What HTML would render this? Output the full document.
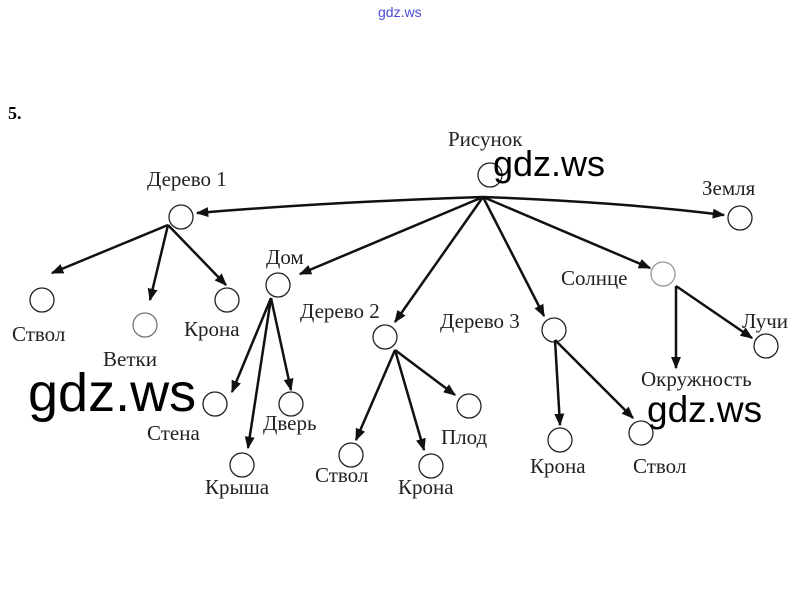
<!DOCTYPE html>
<html><head><meta charset="utf-8"><style>
html,body{margin:0;padding:0;background:#fff;}
svg{display:block;}
.l{font-family:"Liberation Serif","DejaVu Serif",serif;font-size:21px;fill:#222;}
.g{font-family:"Liberation Sans","DejaVu Sans",sans-serif;fill:#000;}
</style></head><body>
<svg width="809" height="593" viewBox="0 0 809 593" xmlns="http://www.w3.org/2000/svg">
<defs>
<marker id="a" viewBox="0 0 10 10" refX="9" refY="5" markerWidth="5" markerHeight="5" orient="auto"><path d="M0,1 L10,5 L0,9 z" fill="#111"/></marker>
</defs>
<text x="378" y="17" font-family="Liberation Sans,sans-serif" font-size="14" fill="#4a4ad8">gdz.ws</text>
<text x="8" y="119" font-family="Liberation Serif,serif" font-size="18" font-weight="bold">5.</text>
<g fill="none" stroke="#222" stroke-width="1.3">
<circle cx="490" cy="175" r="12"/><circle cx="181" cy="217" r="12"/><circle cx="740" cy="218" r="12"/>
<circle cx="278" cy="285" r="12"/><circle cx="385" cy="337" r="12"/><circle cx="554" cy="330" r="12"/>
<circle cx="663" cy="274" r="12" stroke="#999"/><circle cx="42" cy="300" r="12"/><circle cx="145" cy="325" r="12" stroke="#777"/>
<circle cx="227" cy="300" r="12"/><circle cx="766" cy="346" r="12"/><circle cx="215" cy="404" r="12"/>
<circle cx="291" cy="404" r="12"/><circle cx="242" cy="465" r="12"/><circle cx="351" cy="455" r="12"/>
<circle cx="431" cy="466" r="12"/><circle cx="469" cy="406" r="12"/><circle cx="560" cy="440" r="12"/><circle cx="641" cy="433" r="12"/>
</g>
<g stroke="#111" stroke-width="2.5" fill="none" marker-end="url(#a)">
<path d="M483,197 Q330,202 197,213"/>
<path d="M483,197 Q620,202 724,215"/>
<path d="M483,197 L300,274"/>
<path d="M483,197 L395,322"/>
<path d="M483,197 L544,316"/>
<path d="M483,197 L650,268"/>
<path d="M168,225 L52,273"/>
<path d="M168,225 L150,300"/>
<path d="M168,225 L226,285"/>
<path d="M271,298 L232,392"/>
<path d="M271,298 L248,448"/>
<path d="M271,298 L291,390"/>
<path d="M395,350 L356,440"/>
<path d="M395,350 L424,450"/>
<path d="M395,350 L455,395"/>
<path d="M555,340 L560,425"/>
<path d="M555,340 L633,418"/>
<path d="M676,286 L676,368"/>
<path d="M676,286 L752,338"/>
</g>
<text class="l" x="448" y="146">Рисунок</text>
<text class="l" x="147" y="186" fill="#666">Дерево 1</text>
<text class="l" x="702" y="195">Земля</text>
<text class="l" x="266" y="264">Дом</text>
<text class="l" x="300" y="318">Дерево 2</text>
<text class="l" x="440" y="328">Дерево 3</text>
<text class="l" x="561" y="285">Солнце</text>
<text class="l" x="742" y="328">Лучи</text>
<text class="l" x="641" y="386">Окружность</text>
<text class="l" x="12" y="341">Ствол</text>
<text class="l" x="103" y="366">Ветки</text>
<text class="l" x="184" y="336">Крона</text>
<text class="l" x="147" y="440">Стена</text>
<text class="l" x="263" y="430">Дверь</text>
<text class="l" x="205" y="494">Крыша</text>
<text class="l" x="315" y="482">Ствол</text>
<text class="l" x="398" y="494">Крона</text>
<text class="l" x="441" y="444">Плод</text>
<text class="l" x="530" y="473">Крона</text>
<text class="l" x="633" y="473">Ствол</text>
<text class="g" x="493" y="176" font-size="36">gdz.ws</text>
<text class="g" x="28" y="411" font-size="54">gdz.ws</text>
<text class="g" x="647" y="422" font-size="37">gdz.ws</text>
</svg>
</body></html>
